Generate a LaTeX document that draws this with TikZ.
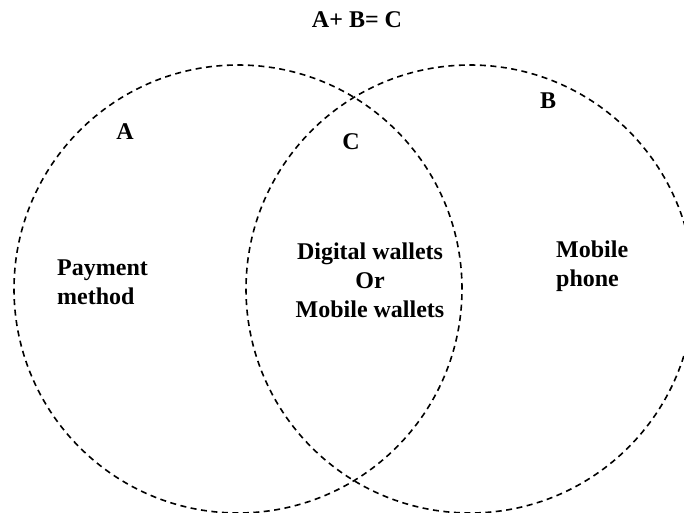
\documentclass[tikz,border=0pt]{standalone}
\usepackage{fontspec}
\setmainfont{Liberation Serif}
\begin{document}
\begin{tikzpicture}[x=1pt,y=-1pt,
  setcircle/.style={circle, draw, inner sep=0pt, minimum size=448pt, line width=1.6pt, dash pattern=on 6pt off 4.5pt},
  lbl/.style={font=\fontsize{24}{29}\selectfont\bfseries, inner sep=0pt}]
\useasboundingbox (0,0) rectangle (684,513);
\clip (0,0) rectangle (684,513);
\node[setcircle] (setA) at (238,289) {};
\node[setcircle] (setB) at (470,289) {};
\node[lbl] (title) at (357,20) {A+ B= C};
\node[lbl] (la) at (125,132) {A};
\node[lbl] (lc) at (351,142) {C};
\node[lbl] (lb) at (548,101) {B};
\node[lbl, align=left, anchor=west] (pay) at (57,282) {Payment\\method};
\node[lbl, align=center] (dig) at (370,280) {Digital wallets\\Or\\Mobile wallets};
\node[lbl, align=left, anchor=west] (mob) at (556,266) {Mobile\\phone};
\end{tikzpicture}
\end{document}
